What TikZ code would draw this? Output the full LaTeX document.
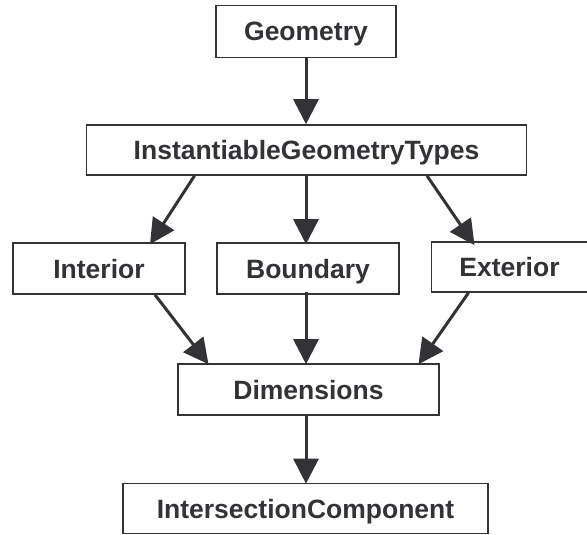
\documentclass[tikz,border=0pt]{standalone}
\usepackage{fontspec}
\setmainfont{Liberation Sans}
\usetikzlibrary{arrows.meta,calc}
\definecolor{ink}{HTML}{333337}
\begin{document}
\begin{tikzpicture}[x=1pt,y=-1pt,
  box/.style={draw=ink,line width=1.6pt,fill=white,inner sep=0pt,anchor=center,
    text height=19pt,text depth=0pt,
    font=\fontsize{26.5}{30}\selectfont\bfseries,text=ink},
  arr/.style={draw=ink,line width=3pt,-{Triangle[length=25pt,width=25pt]}}]
\useasboundingbox (0,0) rectangle (587,535);
\node[box,minimum width=180pt,minimum height=52pt] (geo) at (306,31.5) {Geometry};
\node[box,minimum width=440pt,minimum height=50pt] (igt) at (306.5,150) {InstantiableGeometryTypes};
\node[box,minimum width=172pt,minimum height=51pt] (int) at (99,268.5) {Interior};
\node[box,minimum width=182pt,minimum height=51pt] (bnd) at (308,268.5) {Boundary};
\node[box,minimum width=156pt,minimum height=50pt] (ext) at (509.5,267) {Exterior};
\node[box,minimum width=261pt,minimum height=51pt] (dim) at (308.5,389.5) {Dimensions};
\node[box,minimum width=365pt,minimum height=50pt] (ic) at (305.5,508.5) {IntersectionComponent};
\draw[arr] (geo.south -| 306,0) -- (igt.north -| 306,0);
\draw[arr] ([xshift=-112pt]igt.south) -- ([xshift=51pt,yshift=-2pt]int.north);
\draw[arr] (igt.south -| 306,0) -- ([yshift=-2pt]bnd.north -| 306,0);
\draw[arr] ([xshift=120.5pt]igt.south) -- ([xshift=-35pt,yshift=-4pt]ext.north);
\draw[arr] ([xshift=56pt]int.south) -- ([xshift=-100pt,yshift=-1pt]dim.north);
\draw[arr] ([yshift=3pt]bnd.south -| 306,0) -- ([yshift=-1pt]dim.north -| 306,0);
\draw[arr] ([xshift=-41pt]ext.south) -- ([xshift=110pt,yshift=-1pt]dim.north);
\draw[arr] (dim.south -| 306,0) -- ([yshift=-1pt]ic.north -| 306,0);
\end{tikzpicture}
\end{document}
